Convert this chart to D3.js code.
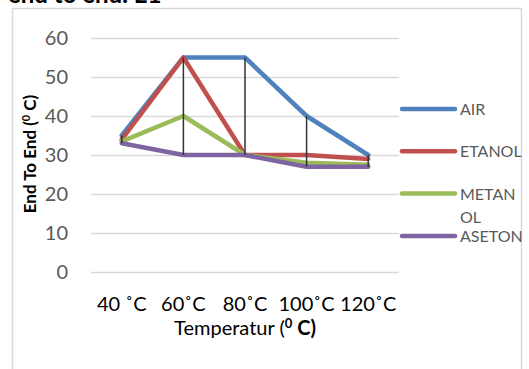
<!DOCTYPE html>
<html>
<head>
<meta charset="utf-8">
<script src="https://cdn.jsdelivr.net/npm/d3@7"></script>
<style>
  body { margin: 0; background: #fff; }
  svg { display: block; font-family: Lato, "Open Sans", sans-serif; }
</style>
</head>
<body>
<svg width="529" height="369"></svg>
<script>
// chart values
const categories = ['40 ˚C', '60˚C', '80˚C', '100˚C', '120˚C'];
const seriesNames = ['AIR', 'ETANOL', 'METANOL', 'ASETON'];
const air = [35, 55, 55, 40, 30];
const etanol = [34, 55, 30, 30, 29];
const metanol = [33.5, 40, 30, 28, 27.5];
const aseton = [33, 30, 30, 27, 27];
const yTicks = [0, 10, 20, 30, 40, 50, 60];
const colors = ['#4f81bd', '#c0504d', '#9bbb59', '#8064a2'];

function main() {
    const svg = d3.select('svg');
    const series = [air, etanol, metanol, aseton];

    // frame of the chart object (bottom edge is cut off)
    svg.append('path')
        .attr('d', 'M12.5,380 V8.5 H521.5 V380')
        .attr('fill', 'none')
        .attr('stroke', '#d9d9d9')
        .attr('stroke-width', 1.5);

    // caption above, mostly clipped like in the page it came from
    svg.append('text')
        .attr('x', 8)
        .attr('y', 3)
        .attr('font-size', '24px')
        .attr('font-weight', 'bold')
        .text('end to end. E1');

    const x = d3.scaleBand().domain(categories).range([91, 399]);
    const y = d3.scaleLinear().domain([0, 60]).range([272, 38]);
    const cx = function (i) { return x(categories[i]) + x.bandwidth() / 2; };

    // gridlines + y labels
    const yAxis = svg.append('g')
        .attr('transform', 'translate(91,0)')
        .call(d3.axisLeft(y).tickValues(yTicks).tickSize(-308).tickPadding(23));
    yAxis.select('.domain').remove();
    yAxis.selectAll('.tick line').attr('stroke', '#d9d9d9').attr('stroke-width', 1.5);
    yAxis.selectAll('.tick text')
        .attr('fill', '#595959')
        .attr('font-size', '20px')
        .attr('font-family', 'Lato, sans-serif');

    // x labels
    const xAxis = svg.append('g')
        .attr('transform', 'translate(0,272)')
        .call(d3.axisBottom(x).tickSize(0).tickPadding(25));
    xAxis.select('.domain').remove();
    xAxis.selectAll('.tick text')
        .attr('fill', '#000')
        .attr('font-size', '20px')
        .attr('font-family', 'Lato, sans-serif');

    // lines
    const line = d3.line()
        .x(function (d, i) { return cx(i); })
        .y(function (d) { return y(d); });
    svg.selectAll('.series')
        .data(series)
        .enter().append('path')
        .attr('class', 'series')
        .attr('d', line)
        .attr('fill', 'none')
        .attr('stroke', function (d, i) { return colors[i]; })
        .attr('stroke-width', 4.5)
        .attr('stroke-linejoin', 'round')
        .attr('stroke-linecap', 'round');

    // high-low lines
    svg.selectAll('.hilo')
        .data(categories)
        .enter().append('line')
        .attr('class', 'hilo')
        .attr('x1', function (d, i) { return cx(i); })
        .attr('x2', function (d, i) { return cx(i); })
        .attr('y1', function (d, i) { return y(d3.max(series, function (s) { return s[i]; })); })
        .attr('y2', function (d, i) { return y(d3.min(series, function (s) { return s[i]; })); })
        .attr('stroke', '#333')
        .attr('stroke-width', 1.5);

    // legend
    const legend = svg.selectAll('.legend')
        .data(seriesNames)
        .enter().append('g')
        .attr('class', 'legend')
        .attr('transform', function (d, i) { return 'translate(0,' + (109 + i * 42.3) + ')'; });
    legend.append('line')
        .attr('x1', 402).attr('x2', 455)
        .attr('stroke', function (d, i) { return colors[i]; })
        .attr('stroke-width', 4.5)
        .attr('stroke-linecap', 'round');
    legend.append('text')
        .attr('x', 460)
        .attr('y', 6)
        .attr('fill', '#595959')
        .attr('font-size', '16px')
        .each(function (d) {
            const t = d3.select(this);
            if (d === 'METANOL') {
                t.append('tspan').text('METAN');
                t.append('tspan').attr('x', 460).attr('dy', 23).text('OL');
            } else {
                t.text(d);
            }
        });

    // axis titles
    const yt = svg.append('text')
        .attr('transform', 'translate(36,154) rotate(-90)')
        .attr('text-anchor', 'middle')
        .attr('font-size', '17px')
        .attr('font-weight', 'bold');
    yt.append('tspan').text('End To End (');
    yt.append('tspan').attr('font-size', '11px').attr('dy', -6).text('0');
    yt.append('tspan').attr('dy', 6).text(' C)');

    const xt = svg.append('text')
        .attr('x', 245)
        .attr('y', 335)
        .attr('text-anchor', 'middle')
        .attr('font-size', '20px');
    xt.append('tspan').text('Temperatur (');
    xt.append('tspan').attr('font-weight', 'bold').attr('font-size', '13px').attr('dy', -7).text('0');
    xt.append('tspan').attr('font-weight', 'bold').attr('dy', 7).text(' C)');
}
main();
</script>
</body>
</html>
